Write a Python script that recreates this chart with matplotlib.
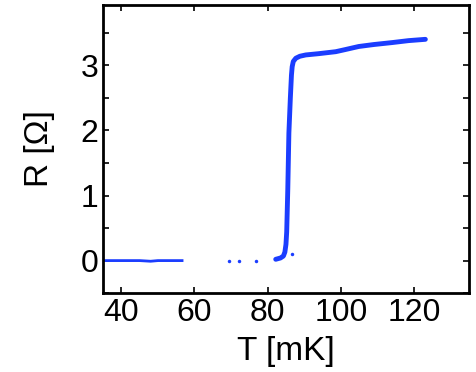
import numpy as np
import matplotlib.pyplot as plt
from matplotlib.ticker import MultipleLocator

plt.rcParams['font.family'] = ['Liberation Sans', 'DejaVu Sans']

# Data
t_low = [35.0, 40.0, 45.0, 48.0, 50.0, 53.0, 56.6]
r_low = [0.0, 0.0, 0.0, -0.01, 0.0, 0.0, 0.0]

t_dots = [69.5, 72.2, 76.8]
r_dots = [0.0, 0.0, 0.0]

t_main = [82.2, 83.5, 84.3, 84.7, 85.0, 85.2, 85.5, 85.8, 86.2, 86.5, 86.7,
          87.0, 87.7, 88.8, 90.4, 94.0, 98.6, 101.0, 104.9, 109.0, 114.0, 118.5, 123.1]
r_main = [0.02, 0.04, 0.07, 0.13, 0.25, 0.44, 1.1, 1.96, 2.5, 2.85, 2.98,
          3.06, 3.11, 3.14, 3.16, 3.18, 3.21, 3.24, 3.29, 3.32, 3.35, 3.38, 3.40]

blue = '#1b3dff'

fig = plt.figure(figsize=(4.77, 3.72), dpi=100)
ax = fig.add_axes([0.216, 0.212, 0.767, 0.775])

ax.plot(t_low, r_low, color=blue, lw=2)
ax.plot(t_dots, r_dots, 'o', color=blue, ms=2.5, mec='none')
ax.plot(t_main, r_main, color=blue, lw=3.5, solid_capstyle='round')
ax.plot([86.7], [0.1], 'o', color=blue, ms=2.5, mec='none')

ax.set_xlim(35, 135)
ax.set_ylim(-0.5, 3.93)
ax.set_xticks([40, 60, 80, 100, 120])
ax.set_yticks([0, 1, 2, 3])
ax.yaxis.set_minor_locator(MultipleLocator(0.5))

ax.tick_params(which='both', direction='in', top=True, right=True,
               labelsize=23, width=1.2, pad=3.5)
ax.tick_params(which='major', length=4)
ax.tick_params(which='minor', length=4)
for s in ax.spines.values():
    s.set_linewidth(2)

ax.set_xlabel('T [mK]', fontsize=24)
ax.set_ylabel('R [Ω]', fontsize=24)
ax.xaxis.set_label_coords(0.5, -0.15)
ax.yaxis.set_label_coords(-0.13, 0.5)

fig.savefig('out.png', dpi=100)
